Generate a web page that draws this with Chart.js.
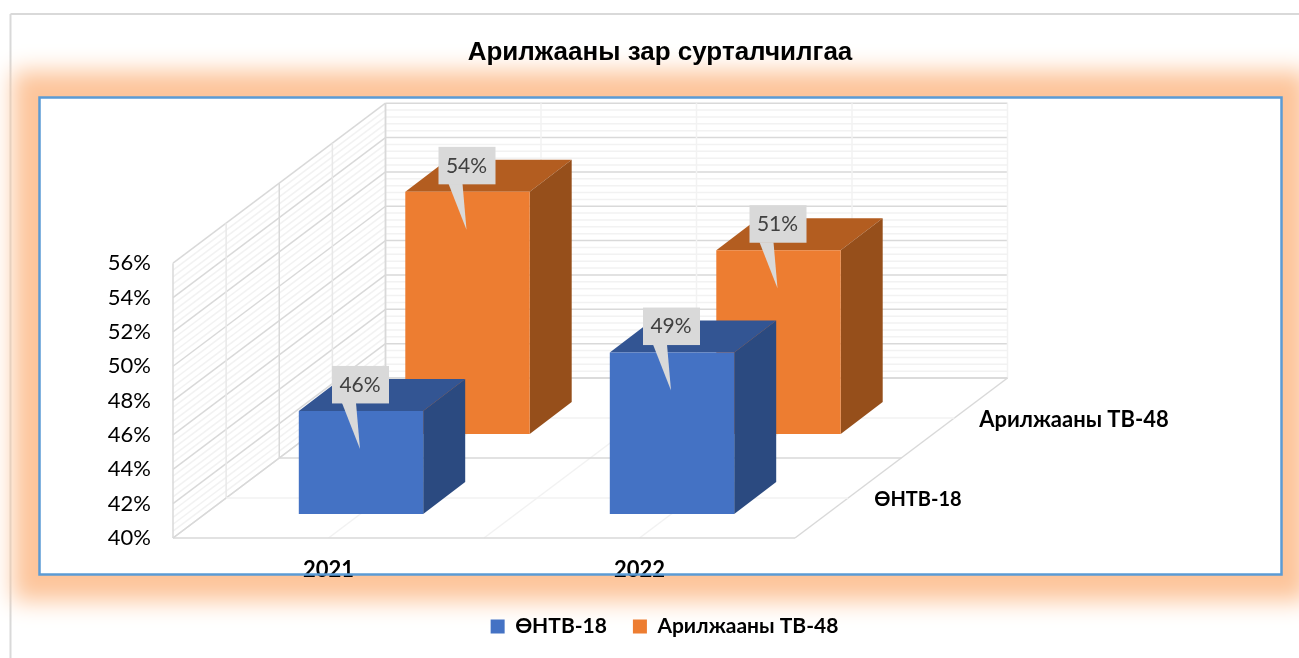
<!DOCTYPE html>
<html>
<head>
<meta charset="utf-8">
<title>Арилжааны зар сурталчилгаа</title>
<style>
  html, body { margin: 0; padding: 0; background: #fff; }
  #wrap { width: 1299px; height: 658px; }
  canvas { display: block; }
</style>
<script src="https://cdn.jsdelivr.net/npm/chart.js@4"></script>
</head>
<body>
<div id="wrap"><canvas id="adChart"></canvas></div>
<script>
var categories = ['2021', '2022'];
var seriesNames = ['ӨНТВ-18', 'Арилжааны ТВ-48'];
var ontvValues = [46, 49.4];
var tvValues = [54.1, 50.7];
var chartTitle = 'Арилжааны зар сурталчилгаа';

var axisMin = 40;
var axisMax = 56;
var axisStep = 2;
var minorStep = 0.4;

var labelFont = "'Lato', 'Noto Sans', sans-serif";

// how far the floor runs back, and where each series sits on it
var floorDepth = { x: 212.5, y: -160 };
var seriesDepth = [{ x: 32.5, y: -24 }, { x: 139, y: -104 }];
var barDepth = { x: 42, y: -32 };
var frontColors = ['#4472C4', '#ED7D31'];
var topColors = ['#335593', '#B35D20'];
var sideColors = ['#2B4A80', '#964F1B'];

function line(ctx, x1, y1, x2, y2, color, width) {
    ctx.strokeStyle = color;
    ctx.lineWidth = width;
    ctx.beginPath();
    ctx.moveTo(x1, y1);
    ctx.lineTo(x2, y2);
    ctx.stroke();
}

function poly(ctx, pts, color) {
    ctx.fillStyle = color;
    ctx.beginPath();
    ctx.moveTo(pts[0][0], pts[0][1]);
    for (var i = 1; i < pts.length; i++) {
        ctx.lineTo(pts[i][0], pts[i][1]);
    }
    ctx.closePath();
    ctx.fill();
}

function strokeFrame(ctx) {
    ctx.strokeStyle = '#5B9BD5';
    ctx.lineWidth = 2.5;
    ctx.strokeRect(39.5, 97.5, 1242, 477);
}

var framePlugin = {
    id: 'frame',
    afterLayout: function (chart) {
        // legend sits a little right of the title in the original
        chart.legend.left += 4.5;
        chart.legend.right += 4.5;
    },
    beforeDraw: function (chart) {
        var ctx = chart.ctx;
        ctx.save();
        ctx.fillStyle = '#fff';
        ctx.fillRect(0, 0, chart.width, chart.height);
        line(ctx, 10.5, 14, chart.width, 14, '#D9D9D9', 2);
        line(ctx, 10.5, 14, 10.5, chart.height, '#D9D9D9', 2);
        // only the shadow lands on the canvas, the rectangle itself is off to the left
        ctx.shadowColor = '#FDC59B';
        ctx.shadowBlur = 22;
        ctx.shadowOffsetX = 3000;
        ctx.fillStyle = '#FDC59B';
        ctx.fillRect(39 - 26 - 3000, 97 - 26, 1243 + 52, 478 + 52);
        ctx.shadowBlur = 0;
        ctx.shadowOffsetX = 0;
        ctx.shadowColor = 'transparent';
        ctx.fillStyle = '#fff';
        ctx.fillRect(39, 97, 1243, 478);
        ctx.restore();
    },
    afterDraw: function (chart) {
        // the year labels sit under the frame line in the original
        chart.ctx.save();
        strokeFrame(chart.ctx);
        chart.ctx.restore();
    }
};

var wallsPlugin = {
    id: 'walls',
    beforeDatasetsDraw: function (chart) {
        var ctx = chart.ctx;
        var area = chart.chartArea;
        var y = chart.scales.y;
        var major = '#D9D9D9';
        var minor = '#F2F2F2';
        var v, i, py, px, f;
        var dx = floorDepth.x;
        var dy = floorDepth.y;
        var bottom = y.getPixelForValue(axisMin);
        var top = y.getPixelForValue(axisMax);
        ctx.save();

        // minor lines first so the major ones stay on top
        var count = Math.round((axisMax - axisMin) / minorStep);
        for (i = 0; i <= count; i++) {
            if (i % 5 === 0) continue;
            py = y.getPixelForValue(axisMin + i * minorStep);
            line(ctx, area.left, py, area.left + dx, py + dy, minor, 1.5);
            line(ctx, area.left + dx, py + dy, area.right + dx, py + dy, minor, 1.5);
        }
        for (v = axisMin; v <= axisMax; v += axisStep) {
            py = y.getPixelForValue(v);
            line(ctx, area.left, py, area.left + dx, py + dy, major, 1.5);
            line(ctx, area.left + dx, py + dy, area.right + dx, py + dy, major, 1.5);
        }

        // uprights on the side wall
        for (i = 0; i <= 4; i++) {
            f = i / 4;
            line(ctx, area.left + dx * f, bottom + dy * f, area.left + dx * f, top + dy * f,
                i % 2 === 0 ? major : '#E8E8E8', 1.5);
        }
        // uprights on the back wall and the floor lines running back
        for (i = 0; i <= 4; i++) {
            px = area.left + (area.right - area.left) * i / 4;
            line(ctx, px + dx, bottom + dy, px + dx, top + dy, i === 0 ? major : minor, 1.5);
            line(ctx, px, bottom, px + dx, bottom + dy, (i === 0 || i === 4) ? major : minor, 1.5);
        }
        // floor lines across
        for (i = 0; i <= 4; i++) {
            f = i / 4;
            line(ctx, area.left + dx * f, bottom + dy * f, area.right + dx * f, bottom + dy * f,
                i % 2 === 0 ? major : minor, 1.5);
        }
        ctx.restore();
    }
};

var boxPlugin = {
    id: 'boxes',
    beforeDatasetDraw: function (chart, args) {
        var ctx = chart.ctx;
        var idx = args.index;
        var off = seriesDepth[idx];
        ctx.save();
        ctx.translate(off.x, off.y);
        args.meta.data.forEach(function (bar) {
            var left = bar.x - bar.width / 2;
            var right = bar.x + bar.width / 2;
            poly(ctx, [[left, bar.y], [right, bar.y], [right + barDepth.x, bar.y + barDepth.y],
                [left + barDepth.x, bar.y + barDepth.y]], topColors[idx]);
            poly(ctx, [[right, bar.y], [right + barDepth.x, bar.y + barDepth.y],
                [right + barDepth.x, bar.base + barDepth.y], [right, bar.base]], sideColors[idx]);
        });
    },
    afterDatasetDraw: function (chart) {
        chart.ctx.restore();
    },
    afterDatasetsDraw: function (chart) {
        var ctx = chart.ctx;
        ctx.save();
        // callouts, back series first
        for (var d = chart.data.datasets.length - 1; d >= 0; d--) {
            var off = seriesDepth[d];
            var values = chart.data.datasets[d].data;
            chart.getDatasetMeta(d).data.forEach(function (bar, n) {
                var cx = bar.x + off.x;
                var cy = bar.y + off.y;
                poly(ctx, [[cx - 19, cy - 8], [cx - 5, cy - 8], [cx - 1, cy + 38]], '#D9D9D9');
                ctx.fillStyle = '#D9D9D9';
                ctx.fillRect(cx - 29, cy - 45, 57, 37.5);
                ctx.fillStyle = '#404040';
                ctx.font = '21px ' + labelFont;
                ctx.textAlign = 'center';
                ctx.textBaseline = 'middle';
                ctx.fillText(Math.round(values[n]) + '%', cx - 1, cy - 26);
            });
        }
        // series names along the right edge of the floor
        ctx.fillStyle = '#000';
        ctx.font = 'bold 20px ' + labelFont;
        ctx.fillText(seriesNames[0], 918, 500);
        ctx.font = 'bold 22px ' + labelFont;
        ctx.fillText(seriesNames[1], 1074, 420);
        ctx.restore();
    }
};

var ctx = document.getElementById('adChart').getContext('2d');

var adChart = new Chart(ctx, {
    type: 'bar',
    data: {
        labels: categories,
        datasets: [
            { label: seriesNames[0], data: ontvValues, base: axisMin, backgroundColor: frontColors[0], clip: false },
            { label: seriesNames[1], data: tvValues, base: axisMin, backgroundColor: frontColors[1], clip: false }
        ]
    },
    plugins: [framePlugin, wallsPlugin, boxPlugin],
    options: {
        responsive: true,
        maintainAspectRatio: false,
        animation: false,
        devicePixelRatio: 1,
        layout: { padding: { left: 21, right: 0, top: 0, bottom: 11 } },
        datasets: { bar: { grouped: false, categoryPercentage: 1, barPercentage: 0.4 } },
        plugins: {
            tooltip: { enabled: false },
            title: {
                display: true,
                text: chartTitle,
                color: '#000',
                font: { family: "'Liberation Sans', Arial, sans-serif", size: 26, weight: 'bold' },
                padding: { top: 37, bottom: 195 }
            },
            legend: {
                position: 'bottom',
                labels: {
                    boxWidth: 14,
                    boxHeight: 14,
                    color: '#000',
                    padding: 26,
                    font: { family: labelFont, size: 21, weight: 'bold' }
                }
            }
        },
        scales: {
            x: {
                grid: { display: false },
                border: { display: false },
                ticks: {
                    color: '#000',
                    padding: 11,
                    maxRotation: 0,
                    font: { family: labelFont, size: 22, weight: 'bold' }
                },
                afterFit: function (scale) { scale.height = 52; }
            },
            y: {
                min: axisMin,
                max: axisMax,
                grid: { display: false },
                border: { display: false },
                ticks: {
                    stepSize: axisStep,
                    color: '#000',
                    padding: 14,
                    font: { family: labelFont, size: 22 },
                    callback: function (value) { return value + '%'; }
                },
                afterFit: function (scale) { scale.width = 152; }
            },
            // holds the plot away from the right side, the floor and labels live there
            rightSpace: {
                position: 'right',
                min: 0,
                max: 1,
                grid: { display: false },
                border: { display: false },
                ticks: { display: false },
                afterFit: function (scale) { scale.width = 504; }
            }
        }
    }
});
</script>
</body>
</html>
